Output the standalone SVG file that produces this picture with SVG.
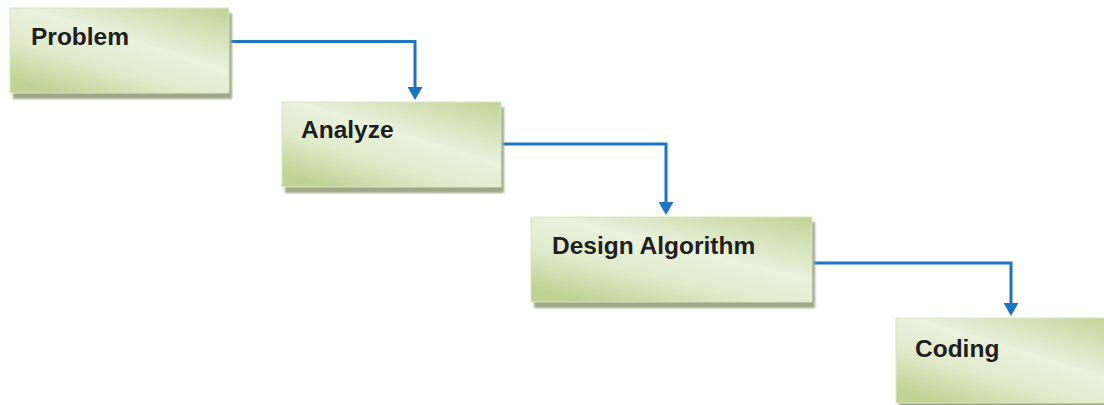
<svg xmlns="http://www.w3.org/2000/svg" width="1104" height="405" viewBox="0 0 1104 405">
  <defs>
    <linearGradient id="boxFill" x1="1" y1="0" x2="0.2" y2="1">
      <stop offset="0" stop-color="#c0d496"/>
      <stop offset="0.45" stop-color="#eaf1dd"/>
      <stop offset="0.7" stop-color="#e2ebcd"/>
      <stop offset="1" stop-color="#bfd394"/>
    </linearGradient>
    <filter id="blur" x="-5%" y="-5%" width="110%" height="115%">
      <feGaussianBlur stdDeviation="1"/>
    </filter>
    <marker id="arrow" viewBox="0 0 13 15" refX="2" refY="7.5" markerWidth="13" markerHeight="15" orient="auto" markerUnits="userSpaceOnUse">
      <path d="M0,0 L13,7.5 L0,15 Z" fill="#1b75c4"/>
    </marker>
  </defs>
  <style>
    .shadow { fill: #9ea889; filter: url(#blur); }
    .box { fill: url(#boxFill); stroke: #dbe6c4; stroke-width: 1; }
    .label { font-family: "Liberation Sans", Arial, sans-serif; font-weight: bold; font-size: 24.5px; fill: #1e1e1e; }
    .conn { fill: none; stroke: #1b75c4; stroke-width: 3; marker-end: url(#arrow); }
  </style>
  <rect width="1104" height="405" fill="#ffffff"/>

  <g id="connectors">
    <path class="conn" d="M229,41.5 H415 V89"/>
    <path class="conn" d="M501,144 H666 V204"/>
    <path class="conn" d="M812,263 H1011 V305"/>
  </g>

  <g id="node-problem">
    <rect class="shadow" x="13" y="13" width="219" height="86"/>
    <rect class="box" x="10" y="8" width="219" height="85"/>
    <text class="label" x="31" y="45">Problem</text>
  </g>

  <g id="node-analyze">
    <rect class="shadow" x="285" y="107" width="219" height="86"/>
    <rect class="box" x="282" y="102" width="219" height="85"/>
    <text class="label" x="301" y="138">Analyze</text>
  </g>

  <g id="node-design">
    <rect class="shadow" x="534" y="222" width="281" height="86"/>
    <rect class="box" x="531" y="217" width="281" height="85"/>
    <text class="label" x="552" y="254">Design Algorithm</text>
  </g>

  <g id="node-coding">
    <rect class="shadow" x="899" y="323" width="219" height="86"/>
    <rect class="box" x="896" y="318" width="219" height="85"/>
    <text class="label" x="915" y="357">Coding</text>
  </g>
</svg>
